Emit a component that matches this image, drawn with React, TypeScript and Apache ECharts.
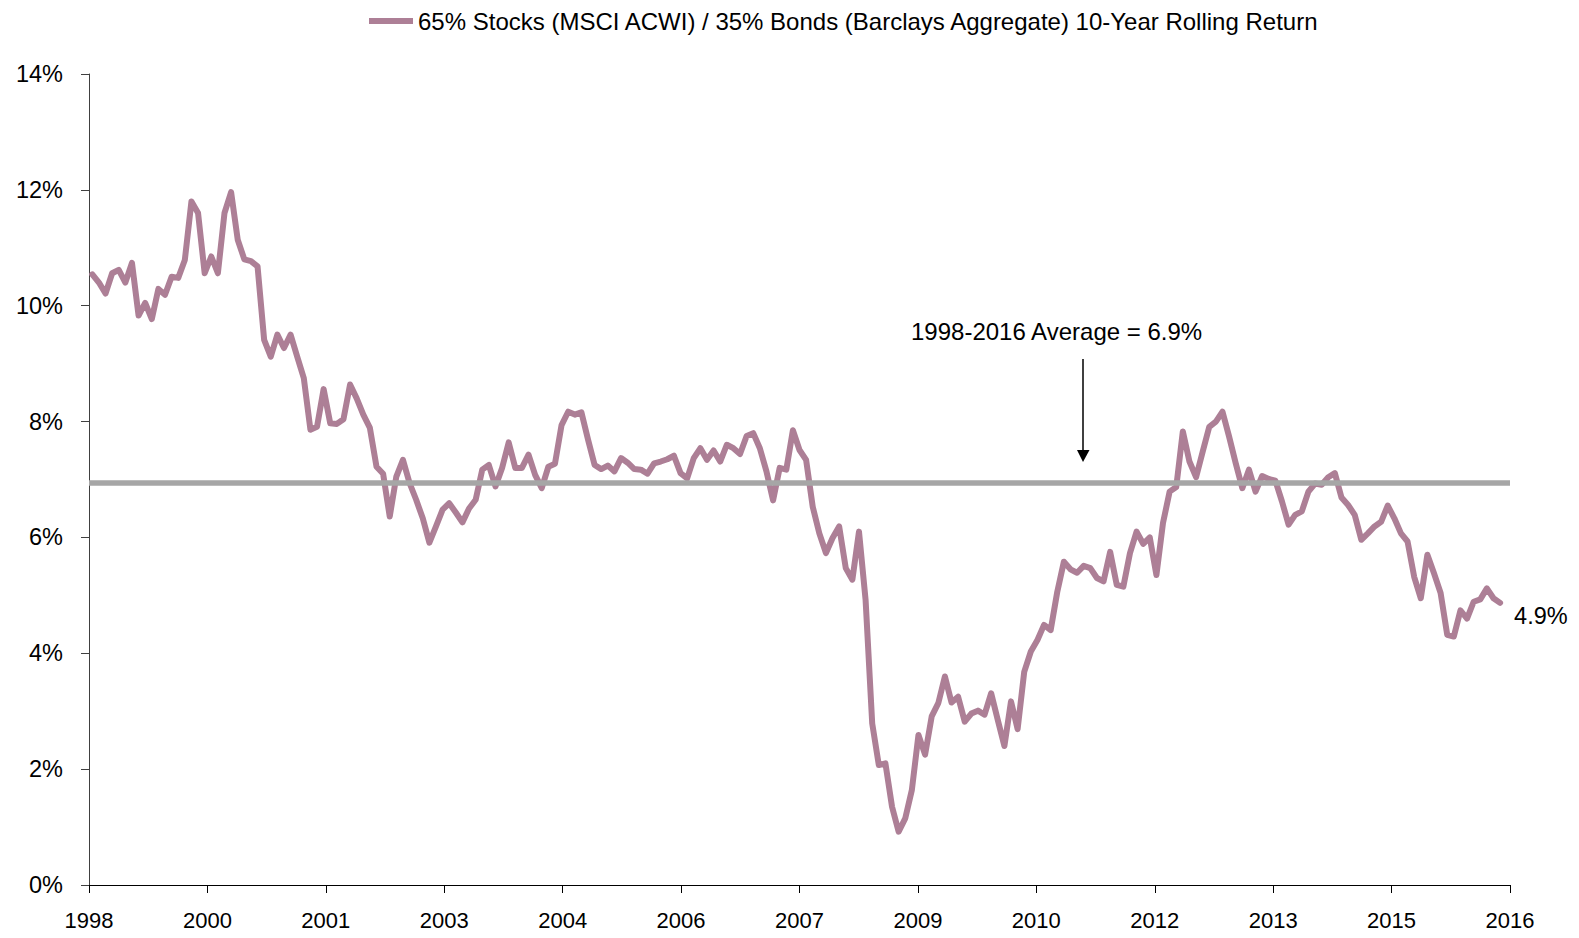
import React, { useEffect, useRef } from 'react';
import * as echarts from 'echarts';

const seriesName = '65% Stocks (MSCI ACWI) / 35% Bonds (Barclays Aggregate) 10-Year Rolling Return';
const xTickLabels = ['1998', '2000', '2001', '2003', '2004', '2006', '2007', '2009', '2010', '2012', '2013', '2015', '2016'];
const averageReturn = 6.94;
const averageLabel = '1998-2016 Average = 6.9%';

// monthly 10-year rolling return (%)
const rollingReturn = [
  10.54, 10.4, 10.21, 10.56, 10.62, 10.4, 10.74, 9.83, 10.05, 9.77,
  10.29, 10.19, 10.5, 10.48, 10.79, 11.8, 11.6, 10.56, 10.85, 10.56,
  11.6, 11.96, 11.14, 10.8, 10.77, 10.68, 9.41, 9.12, 9.5, 9.27,
  9.5, 9.12, 8.75, 7.86, 7.91, 8.56, 7.97, 7.96, 8.04, 8.64,
  8.4, 8.12, 7.89, 7.22, 7.1, 6.36, 7.05, 7.34, 6.94, 6.65,
  6.33, 5.91, 6.19, 6.48, 6.59, 6.43, 6.26, 6.5, 6.65, 7.17,
  7.25, 6.88, 7.2, 7.64, 7.2, 7.2, 7.43, 7.08, 6.85, 7.22,
  7.27, 7.94, 8.17, 8.12, 8.16, 7.69, 7.25, 7.18, 7.24, 7.14,
  7.37, 7.29, 7.18, 7.17, 7.1, 7.28, 7.31, 7.35, 7.41, 7.11,
  7.02, 7.37, 7.54, 7.34, 7.5, 7.31, 7.6, 7.54, 7.44, 7.75,
  7.8, 7.54, 7.14, 6.64, 7.2, 7.17, 7.85, 7.51, 7.34, 6.53,
  6.07, 5.73, 5.99, 6.19, 5.47, 5.27, 6.1, 4.92, 2.79, 2.07,
  2.1, 1.35, 0.92, 1.15, 1.64, 2.59, 2.25, 2.91, 3.14, 3.6,
  3.15, 3.25, 2.82, 2.96, 3.01, 2.94, 3.31, 2.85, 2.4, 3.17,
  2.69, 3.68, 4.03, 4.23, 4.49, 4.4, 5.06, 5.58, 5.45, 5.39,
  5.51, 5.47, 5.3, 5.24, 5.75, 5.18, 5.15, 5.73, 6.1, 5.89,
  6.0, 5.35, 6.25, 6.79, 6.87, 7.83, 7.31, 7.04, 7.48, 7.91,
  8.0, 8.17, 7.74, 7.28, 6.85, 7.17, 6.79, 7.06, 7.01, 6.98,
  6.62, 6.22, 6.39, 6.45, 6.79, 6.93, 6.91, 7.04, 7.11, 6.69,
  6.56, 6.39, 5.96, 6.07, 6.19, 6.27, 6.55, 6.33, 6.07, 5.93,
  5.32, 4.95, 5.7, 5.38, 5.04, 4.32, 4.29, 4.74, 4.6, 4.89,
  4.93, 5.12, 4.95, 4.87,
];

const monthNames = ['Jan', 'Feb', 'Mar', 'Apr', 'May', 'Jun', 'Jul', 'Aug', 'Sep', 'Oct', 'Nov', 'Dec'];
const firstYear = 1998;
const monthCount = 215;
const months = Array.from({ length: monthCount }, (_, i) => `${monthNames[i % 12]}-${firstYear + Math.floor(i / 12)}`);

const FONT = "'Liberation Sans', Arial, sans-serif";
const LINE_COLOR = '#AD7F96';

export default function App() {
  const ref = useRef<HTMLDivElement>(null);
  useEffect(() => {
    if (!ref.current) return;
    const chart = echarts.init(ref.current, undefined, { renderer: 'svg' });
    chart.setOption({
      animation: false,
      backgroundColor: '#fff',
      textStyle: { fontFamily: FONT },
      legend: {
        data: [{ name: seriesName, icon: 'rect' }],
        left: 369,
        top: 9,
        padding: 0,
        itemWidth: 44,
        itemHeight: 6,
        textStyle: { fontSize: 24, color: '#000', fontFamily: FONT },
      },
      grid: { left: 89, right: 69, top: 74, bottom: 53, containLabel: false },
      xAxis: [
        { type: 'category', data: months, boundaryGap: true, show: false, position: 'bottom' },
        {
          type: 'value', min: 1998, max: 2016, interval: 1.5, position: 'bottom',
          axisLine: { show: true, lineStyle: { color: '#000', width: 1 } },
          axisTick: { show: true, length: 8, lineStyle: { color: '#000' } },
          splitLine: { show: false },
          axisLabel: {
            formatter: (v: number) => xTickLabels[Math.round((v - 1998) / 1.5)] ?? '',
            fontSize: 22, color: '#000', margin: 24, fontFamily: FONT,
          },
        },
      ],
      yAxis: {
        type: 'value', min: 0, max: 14, interval: 2,
        axisLine: { show: true, lineStyle: { color: '#404040', width: 1 } },
        axisTick: { show: true, length: 8, lineStyle: { color: '#404040' } },
        splitLine: { show: false },
        axisLabel: { formatter: '{value}%', fontSize: 23.5, color: '#000', margin: 26, fontFamily: FONT },
      },
      series: [
        {
          name: seriesName,
          type: 'line',
          xAxisIndex: 0,
          data: rollingReturn,
          symbol: 'none',
          color: LINE_COLOR,
          lineStyle: { color: LINE_COLOR, width: 6, cap: 'round', join: 'round' },
          endLabel: {
            show: true,
            formatter: (p: any) => `${Number(p.value).toFixed(1)}%`,
            fontSize: 23.5, color: '#000', fontFamily: FONT,
            distance: 14, offset: [0, 13],
          },
          markLine: {
            silent: true,
            symbol: ['none', 'none'],
            label: { show: false },
            lineStyle: { color: '#A6A6A6', width: 5.5, type: 'solid' },
            data: [{ yAxis: averageReturn }],
          },
        },
      ],
      graphic: [
        {
          type: 'text', x: 911, y: 331,
          style: { text: averageLabel, fontSize: 24, fill: '#000', fontFamily: FONT, verticalAlign: 'middle' },
        },
        { type: 'line', shape: { x1: 1083, y1: 359, x2: 1083, y2: 451 }, style: { stroke: '#000', lineWidth: 1.5 } },
        { type: 'polygon', shape: { points: [[1077, 450], [1089.5, 450], [1083, 462]] }, style: { fill: '#000' } },
      ],
    });
    return () => chart.dispose();
  }, []);
  return <div ref={ref} style={{ position: 'absolute', left: 0, top: 0, width: '1579px', height: '938px' }} />;
}
